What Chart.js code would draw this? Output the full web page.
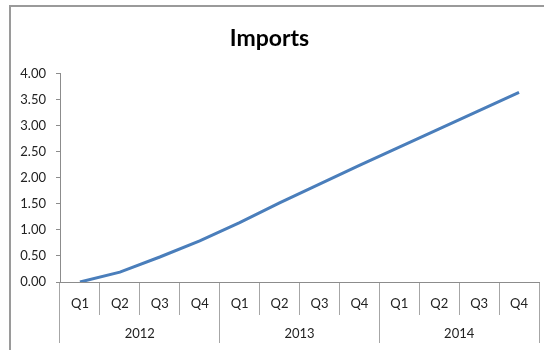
<!DOCTYPE html>
<html>
<head>
<meta charset="utf-8">
<script src="https://cdn.jsdelivr.net/npm/chart.js@4.4.1/dist/chart.umd.min.js"></script>
<style>
  html, body { margin: 0; padding: 0; background: #fff; }
  #frame {
    position: absolute; left: 9px; top: 5px;
    width: 600px; height: 400px;
    border: 2px solid #9a9a9a;
  }
  #wrap { position: absolute; left: 0; top: 0; width: 544px; height: 350px; }
</style>
</head>
<body>
<div id="frame"></div>
<div id="wrap"><canvas id="chart"></canvas></div>
<script>
const quarters = ['Q1', 'Q2', 'Q3', 'Q4', 'Q1', 'Q2', 'Q3', 'Q4', 'Q1', 'Q2', 'Q3', 'Q4'];
const years = ['2012', '2013', '2014'];
const imports = [0.00, 0.19, 0.48, 0.79, 1.14, 1.52, 1.88, 2.24, 2.59, 2.94, 3.29, 3.64];

const FONT = 'Lato, "Open Sans", sans-serif';
const AXIS_GRAY = '#8c8c8c';
const TEXT = '#222';

new Chart(document.getElementById('chart'), {
  type: 'line',
  data: {
    labels: quarters,
    datasets: [{
      label: 'Imports',
      data: imports,
      borderColor: '#4a7ebb',
      borderWidth: 3,
      pointRadius: 0,
      tension: 0,
      fill: false,
    }],
  },
  options: {
    responsive: true,
    maintainAspectRatio: false,
    animation: false,
    layout: { padding: { left: 0, right: 5, top: 0, bottom: 7 } },
    plugins: {
      legend: { display: false },
      tooltip: { enabled: false },
      title: {
        display: true,
        text: 'Imports',
        color: '#000',
        font: { family: FONT, size: 23, weight: 'bold' },
        padding: { top: 25, bottom: 21 },
      },
    },
    scales: {
      y: {
        min: 0,
        max: 4,
        ticks: {
          stepSize: 0.5,
          padding: 10,
          color: TEXT,
          font: { family: FONT, size: 13 },
          callback: v => Number(v).toFixed(2),
        },
        grid: { drawOnChartArea: false, tickLength: 4, color: AXIS_GRAY },
        border: { color: AXIS_GRAY },
        afterFit: s => { s.width = 60; },
      },
      x: {
        offset: true,
        ticks: {
          padding: -19,
          color: TEXT,
          font: { family: FONT, size: 13 },
          maxRotation: 0,
          autoSkip: false,
        },
        grid: { offset: true, drawOnChartArea: false, tickLength: 33, color: '#a6a6a6' },
        border: { color: AXIS_GRAY },
        afterFit: s => { s.height = 33; },
      },
      years: {
        type: 'category',
        position: 'bottom',
        labels: years,
        offset: true,
        ticks: {
          padding: -17,
          color: TEXT,
          font: { family: FONT, size: 13 },
          maxRotation: 0,
        },
        grid: { offset: true, drawOnChartArea: false, tickLength: 28, color: '#a6a6a6' },
        border: { display: false },
        afterFit: s => { s.height = 28; },
      },
    },
  },
});
</script>
</body>
</html>
